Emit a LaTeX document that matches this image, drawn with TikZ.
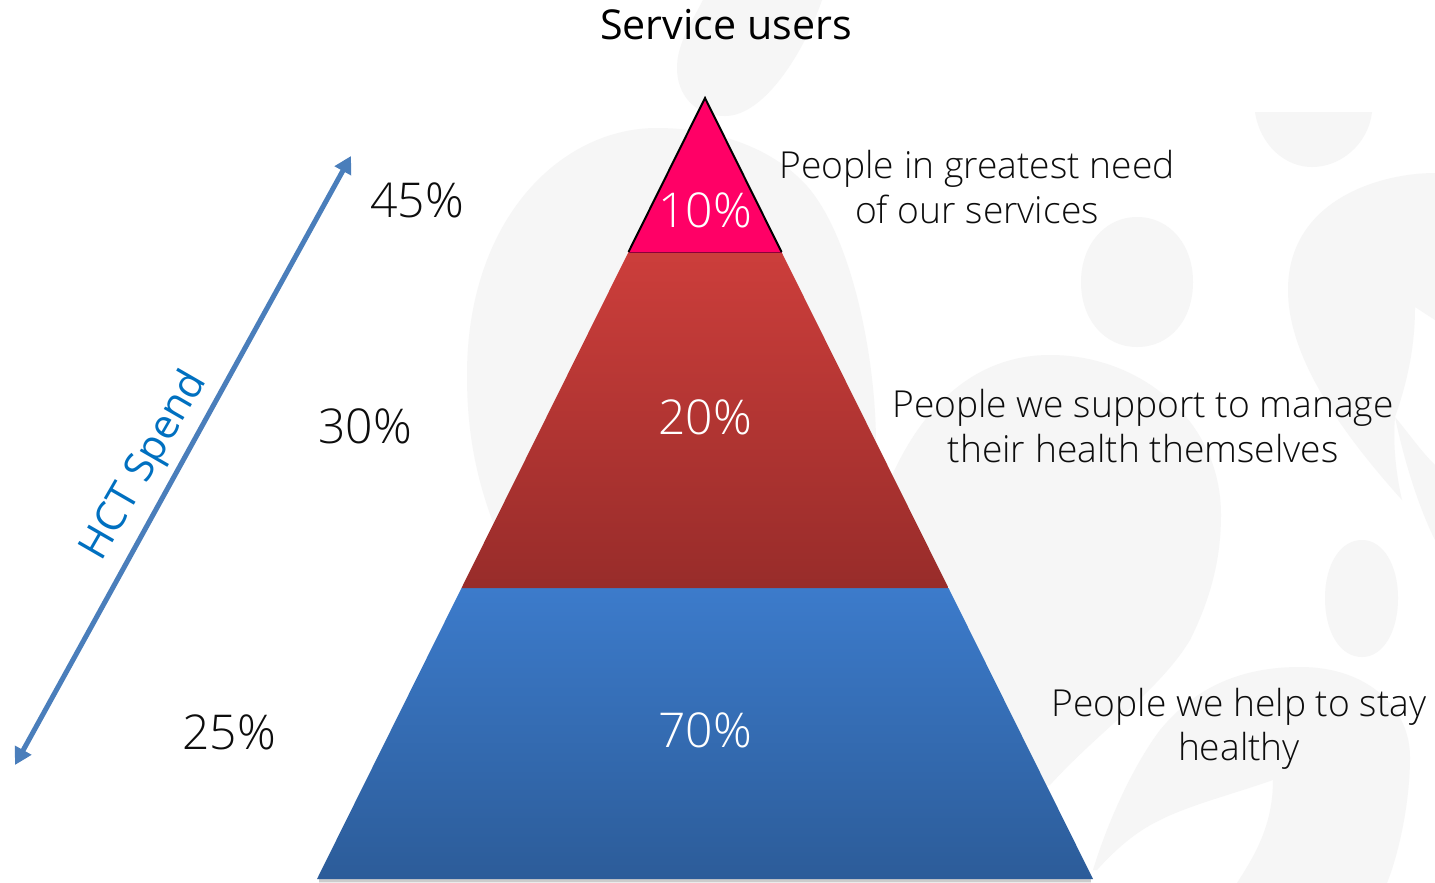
\documentclass[tikz,border=0pt]{standalone}
\usepackage{fontspec}
\setmainfont{Open Sans}
\newfontfamily\lightf{Open Sans Light}
\usetikzlibrary{arrows.meta}
\definecolor{wm}{HTML}{F6F6F6}
\definecolor{arrowblue}{HTML}{4A7EBB}
\definecolor{spendblue}{HTML}{0070C0}
\definecolor{pinkfill}{HTML}{FF0066}
\definecolor{redtop}{HTML}{CC3E3B}
\definecolor{redmid}{HTML}{BE3936}
\definecolor{redbot}{HTML}{982C2A}
\definecolor{bluetop}{HTML}{3C7BCB}
\definecolor{bluemid}{HTML}{366FB4}
\definecolor{bluebot}{HTML}{2C5C99}
\definecolor{ink}{HTML}{0D0D0D}
\tikzset{
  watermark/.style={fill=wm,draw=none},
  desc/.style={font=\lightf\fontsize{37.2}{44.6}\selectfont,text=ink,align=center,inner sep=0pt},
  spendpct/.style={font=\lightf\fontsize{48}{50}\selectfont,text=ink,inner sep=0pt},
  tierpct/.style={font=\lightf\fontsize{48}{50}\selectfont,text=white,inner sep=0pt},
  spendarrow/.style={draw=arrowblue,line width=5pt,{Triangle[length=17pt,width=18pt]}-{Triangle[length=17pt,width=18pt]}}
}
\begin{document}
\begin{tikzpicture}[x=1pt,y=-1pt]
\useasboundingbox (0,0) rectangle (1435,883);
\fill[white] (0,0) rectangle (1435,883);
% watermark
\fill[watermark] (703,0) .. controls (690,25) and (677,45) .. (677,68) .. controls (677,95) and (695,116) .. (725,116) .. controls (765,116) and (805,50) .. (822,0) -- cycle;
\fill[watermark] (657,128) .. controls (560,128) and (467,220) .. (467,375) .. controls (467,430) and (475,480) .. (500,540) -- (700,600) -- (876,440) .. controls (875,350) and (850,235) .. (807,186) .. controls (770,145) and (710,128) .. (657,128) -- cycle;
\fill[watermark] (1050,355) .. controls (980,355) and (925,400) .. (890,480) -- (1000,800) -- (1050,785) .. controls (1100,730) and (1160,690) .. (1190,640) .. controls (1210,600) and (1221,560) .. (1221,515) .. controls (1221,420) and (1140,355) .. (1050,355) -- cycle;
\fill[watermark] (1137,217) .. controls (1170,217) and (1193,245) .. (1193,282) .. controls (1193,320) and (1170,347) .. (1137,347) .. controls (1105,347) and (1081,320) .. (1081,282) .. controls (1081,245) and (1105,217) .. (1137,217) -- cycle;
\fill[watermark] (1362,540) .. controls (1383,540) and (1398,565) .. (1398,598) .. controls (1398,632) and (1383,657) .. (1362,657) .. controls (1340,657) and (1325,632) .. (1325,598) .. controls (1325,565) and (1340,540) .. (1362,540) -- cycle;
\fill[watermark] (1255,112) -- (1372,112) .. controls (1368,145) and (1340,167) .. (1312,167) .. controls (1285,167) and (1260,145) .. (1255,112) -- cycle;
\fill[watermark] (1435,173) .. controls (1380,173) and (1288,200) .. (1288,290) .. controls (1288,350) and (1330,420) .. (1402,500) .. controls (1395,470) and (1393,440) .. (1395,417) .. controls (1408,380) and (1415,345) .. (1415,307) -- (1435,320) -- cycle;
\fill[watermark] (1395,417) .. controls (1410,435) and (1420,450) .. (1435,465) -- (1435,540) .. controls (1420,510) and (1405,465) .. (1395,417) -- cycle;
\fill[watermark] (1093,870) .. controls (1105,830) and (1130,770) .. (1160,730) .. controls (1185,700) and (1225,667) .. (1300,667) .. controls (1370,667) and (1410,710) .. (1410,757) .. controls (1410,800) and (1400,850) .. (1387,883) -- (1237,883) .. controls (1255,855) and (1273,825) .. (1273,780) .. controls (1230,795) and (1190,805) .. (1160,820) .. controls (1135,832) and (1115,850) .. (1097,870) -- cycle;
% pyramid
\fill[black,opacity=.2] (319,879) rectangle (1091,882);
\fill[black,opacity=.08] (319,882) rectangle (1091,883);
\shade[top color=bluetop,middle color=bluemid,bottom color=bluebot] (461.5,588) -- (948.5,588) -- (1093,879) -- (317,879) -- cycle;
\shade[top color=redtop,middle color=redmid,bottom color=redbot] (628.5,252) -- (781.5,252) -- (948.5,588) -- (461.5,588) -- cycle;
\fill[pinkfill] (705,98) -- (781.5,252) -- (628.5,252) -- cycle;
\draw[black,line width=2pt,line join=miter] (628.5,252) -- (705,98) -- (781.5,252);
\draw[black!45!pinkfill,line width=.6pt] (628.5,252) -- (781.5,252);
% labels
\node[font=\fontsize{41.2}{44}\selectfont,text=black,inner sep=0pt] (title) at (726,25) {Service users};
\node[tierpct] (t10) at (705,210) {10\%};
\node[tierpct] (t20) at (705,417) {20\%};
\node[tierpct] (t70) at (705,730) {70\%};
\node[spendpct] (s45) at (417,200) {45\%};
\node[spendpct] (s30) at (365,426) {30\%};
\node[spendpct] (s25) at (229,732) {25\%};
\node[desc] (d1) at (977,187) {People in greatest need\\of our services};
\node[desc] (d2) at (1143,426) {People we support to manage\\their health themselves};
\node[desc] (d3) at (1239,729) {People we help to stay\\healthy};
% arrow
\coordinate (arrowtop) at (351,156);
\coordinate (arrowbot) at (15,765);
\draw[spendarrow] (arrowbot) -- (arrowtop);
\node[font=\fontsize{41}{43}\selectfont,text=spendblue,rotate=60,inner sep=0pt] (spend) at (145,466) {HCT Spend};
\end{tikzpicture}
\end{document}
